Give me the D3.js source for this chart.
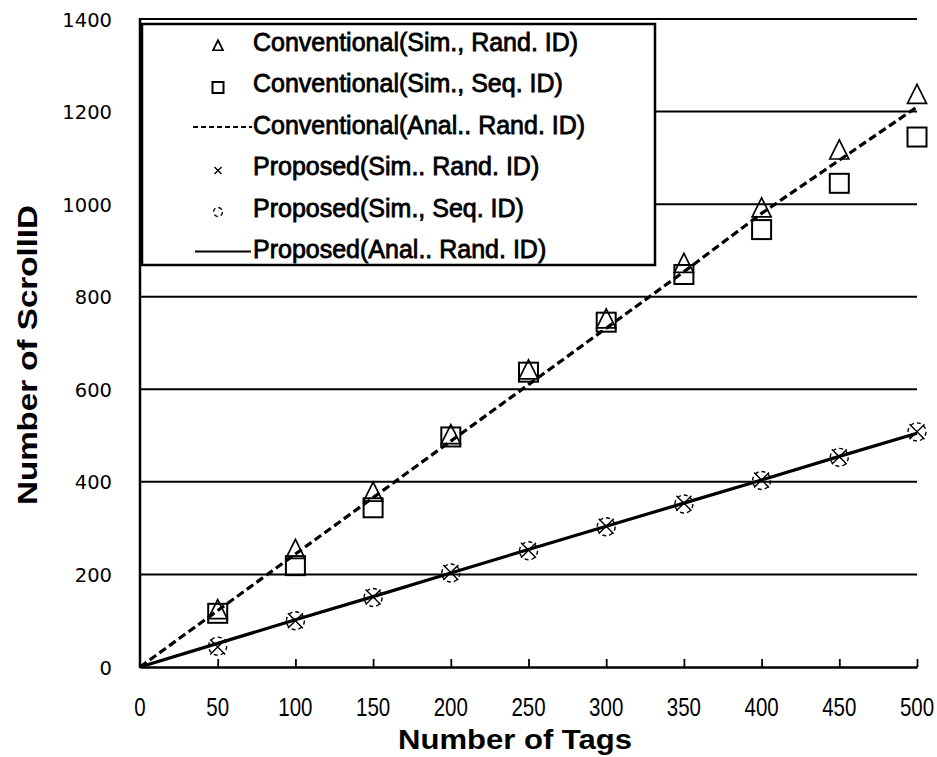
<!DOCTYPE html>
<html>
<head>
<meta charset="utf-8">
<script src="https://cdn.jsdelivr.net/npm/d3@7/dist/d3.min.js"></script>
<style>
  html, body { margin: 0; padding: 0; background: #fff; }
  svg { display: block; }
</style>
</head>
<body>
<svg id="chart" width="937" height="757"></svg>
<script>
// ---- data ----
const tags = [50, 100, 150, 200, 250, 300, 350, 400, 450, 500];
const analTags = [0, 50, 100, 150, 200, 250, 300, 350, 400, 450, 500];
const convSimRand = [122, 252, 376, 500, 640, 750, 870, 990, 1115, 1235];
const convSimSeq = [116, 219, 344, 497, 637, 745, 848, 945, 1045, 1145];
const convAnalRand = [0, 122, 244, 366, 488, 610, 732, 854, 980, 1095, 1210];
const propSimRand = [43, 100, 151, 204, 252, 304, 354, 404, 454, 508];
const propSimSeq = [45, 100, 150, 203, 251, 303, 352, 403, 453, 508];
const propAnalRand = [0, 51, 102, 152, 203, 254, 304, 354, 404, 455, 505];
const xTicks = [0, 50, 100, 150, 200, 250, 300, 350, 400, 450, 500];
const yTicks = [0, 200, 400, 600, 800, 1000, 1200, 1400];
const legendLabels = [
  "Conventional(Sim., Rand. ID)",
  "Conventional(Sim., Seq. ID)",
  "Conventional(Anal.. Rand. ID)",
  "Proposed(Sim.. Rand. ID)",
  "Proposed(Sim., Seq. ID)",
  "Proposed(Anal.. Rand. ID)"
];
const xTitle = "Number of Tags";
const yTitle = "Number of ScrollID";

// ---- layout ----
const svg = d3.select("#chart");
const x = d3.scaleLinear().domain([0, 500]).range([140, 917]);
const y = d3.scaleLinear().domain([0, 1400]).range([667, 19]);

// gridlines
svg.append("g").selectAll("line").data(yTicks.filter(d => d > 0)).join("line")
  .attr("x1", x(0)).attr("x2", x(500))
  .attr("y1", d => y(d)).attr("y2", d => y(d))
  .attr("stroke", "#000").attr("stroke-width", 2);

// y axis labels
const yAxis = d3.axisLeft(y).tickValues(yTicks).tickSize(0).tickPadding(0).tickFormat(d3.format("d"));
const gy = svg.append("g").attr("transform", "translate(112,0)").call(yAxis);
gy.select(".domain").remove();
gy.selectAll("text")
  .attr("font-family", "DejaVu Sans, sans-serif")
  .attr("font-size", 19.5)
  .attr("fill", "#000")
  .attr("dy", "0.36em")
  .attr("x", 0);

// x axis (ticks pointing inward)
const xAxis = d3.axisBottom(x).tickValues(xTicks.filter(d => d > 0)).tickSize(-8).tickSizeOuter(0).tickFormat("");
const gx = svg.append("g").attr("transform", `translate(0,${y(0)})`).call(xAxis);
gx.select(".domain").attr("stroke", "#000").attr("stroke-width", 2.5);
gx.selectAll(".tick line").attr("stroke", "#000").attr("stroke-width", 1.8);

// x tick labels (narrow)
svg.append("g").selectAll("text").data(xTicks).join("text")
  .attr("transform", d => `translate(${x(d)},716) scale(0.82,1)`)
  .attr("text-anchor", "middle")
  .attr("font-family", "Liberation Sans, Arial, sans-serif")
  .attr("font-size", 25)
  .attr("fill", "#000")
  .text(d => d);

// left axis line
svg.append("line")
  .attr("x1", x(0)).attr("x2", x(0))
  .attr("y1", y(1400) - 1).attr("y2", y(0) + 1)
  .attr("stroke", "#000").attr("stroke-width", 2.5);

// axis titles
svg.append("text")
  .attr("x", 515).attr("y", 749)
  .attr("text-anchor", "middle")
  .attr("font-family", "Liberation Sans, Arial, sans-serif")
  .attr("font-weight", "bold")
  .attr("font-size", 27)
  .attr("textLength", 234).attr("lengthAdjust", "spacingAndGlyphs")
  .text(xTitle);

svg.append("text")
  .attr("transform", "translate(37,355) rotate(-90)")
  .attr("text-anchor", "middle")
  .attr("font-family", "Liberation Sans, Arial, sans-serif")
  .attr("font-weight", "bold")
  .attr("font-size", 28)
  .attr("textLength", 300).attr("lengthAdjust", "spacingAndGlyphs")
  .text(yTitle);

// ---- series ----
const line = d3.line().x(d => x(d[0])).y(d => y(d[1]));

svg.append("path")
  .datum(analTags.map((t, i) => [t, convAnalRand[i]]))
  .attr("d", line).attr("fill", "none")
  .attr("stroke", "#000").attr("stroke-width", 3.2)
  .attr("stroke-dasharray", "8,4");

svg.append("path")
  .datum(analTags.map((t, i) => [t, propAnalRand[i]]))
  .attr("d", line).attr("fill", "none")
  .attr("stroke", "#000").attr("stroke-width", 3.2);

function triangle(g, s) {
  g.append("path")
    .attr("d", `M0,${-1.15 * s}L${s},${0.85 * s}L${-s},${0.85 * s}Z`)
    .attr("fill", "none").attr("stroke", "#000").attr("stroke-width", 1.7);
}
function square(g, s) {
  g.append("rect").attr("x", -s).attr("y", -s).attr("width", 2 * s).attr("height", 2 * s)
    .attr("fill", "none").attr("stroke", "#000").attr("stroke-width", 2);
}
function cross(g, s) {
  g.append("path").attr("d", `M${-s},${-s}L${s},${s}M${-s},${s}L${s},${-s}`)
    .attr("fill", "none").attr("stroke", "#000").attr("stroke-width", 1.4);
}
function dcircle(g, r) {
  g.append("circle").attr("r", r)
    .attr("fill", "none").attr("stroke", "#000").attr("stroke-width", 1.4)
    .attr("stroke-dasharray", "4,3");
}

function markers(vals, fn, s) {
  const g = svg.append("g");
  g.selectAll("g").data(tags.map((t, i) => [t, vals[i]])).join("g")
    .attr("transform", d => `translate(${x(d[0])},${y(d[1])})`)
    .each(function () { fn(d3.select(this), s); });
}
markers(propSimRand, cross, 7.5);
markers(propSimSeq, dcircle, 9);
markers(convSimSeq, square, 9.5);
markers(convSimRand, triangle, 9.5);

// ---- legend ----
const leg = svg.append("g");
leg.append("rect")
  .attr("x", 142).attr("y", 24).attr("width", 513).attr("height", 241)
  .attr("fill", "#fff").attr("stroke", "#000").attr("stroke-width", 2.5);

const rowY = i => 42 + i * 41.5;
legendLabels.forEach((lab, i) => {
  leg.append("text")
    .attr("x", 253).attr("y", rowY(i) + 8.5)
    .attr("font-family", "Liberation Sans, Arial, sans-serif")
    .attr("font-size", 25)
    .attr("fill", "#000").attr("stroke", "#000").attr("stroke-width", 0.8)
    .text(lab);
});
const sym = (i) => leg.append("g").attr("transform", `translate(218,${rowY(i) + 4})`);
triangle(sym(0), 5);
square(sym(1), 5.5);
leg.append("line").attr("x1", 193).attr("x2", 252).attr("y1", rowY(2) + 2).attr("y2", rowY(2) + 2)
  .attr("stroke", "#000").attr("stroke-width", 2).attr("stroke-dasharray", "5,3");
cross(sym(3), 3.5);
dcircle(sym(4), 4.5);
leg.append("line").attr("x1", 195).attr("x2", 251).attr("y1", rowY(5) + 2).attr("y2", rowY(5) + 2)
  .attr("stroke", "#000").attr("stroke-width", 2);
</script>
</body>
</html>
